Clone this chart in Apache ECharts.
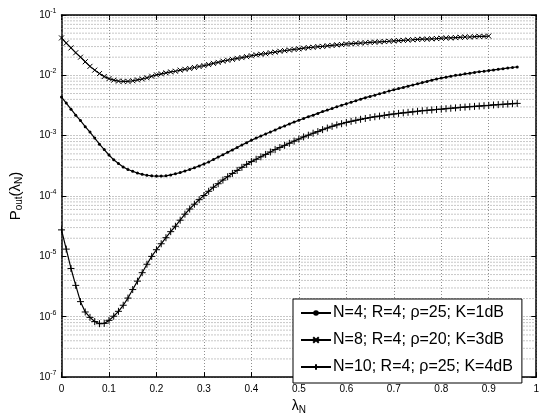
<!DOCTYPE html>
<html>
<head>
<meta charset="utf-8">
<script src="https://cdn.jsdelivr.net/npm/echarts@6/dist/echarts.min.js"></script>
<style>html,body{margin:0;padding:0;background:#fff;}#c{width:542px;height:420px;}</style>
</head>
<body>
<div id="c"></div>
<script>
const lambdaN = [0,0.01,0.02,0.03,0.04,0.05,0.06,0.07,0.08,0.09,0.1,0.11,0.12,0.13,0.14,0.15,0.16,0.17,0.18,0.19,0.2,0.21,0.22,0.23,0.24,0.25,0.26,0.27,0.28,0.29,0.3,0.31,0.32,0.33,0.34,0.35,0.36,0.37,0.38,0.39,0.4,0.41,0.42,0.43,0.44,0.45,0.46,0.47,0.48,0.49,0.5,0.51,0.52,0.53,0.54,0.55,0.56,0.57,0.58,0.59,0.6,0.61,0.62,0.63,0.64,0.65,0.66,0.67,0.68,0.69,0.7,0.71,0.72,0.73,0.74,0.75,0.76,0.77,0.78,0.79,0.8,0.81,0.82,0.83,0.84,0.85,0.86,0.87,0.88,0.89,0.9,0.91,0.92,0.93,0.94,0.95,0.96];

const seriesNames = ['N=4; R=4; \u03c1=25; K=1dB', 'N=8; R=4; \u03c1=20; K=3dB', 'N=10; R=4; \u03c1=25; K=4dB'];

const pN4 = [4.37e-3,3.47e-3,2.75e-3,2.19e-3,1.78e-3,1.41e-3,1.15e-3,9.12e-4,7.24e-4,5.89e-4,
4.79e-4,3.98e-4,3.47e-4,3.02e-4,2.75e-4,2.57e-4,2.40e-4,2.29e-4,2.21e-4,2.16e-4,
2.14e-4,2.14e-4,2.16e-4,2.24e-4,2.34e-4,2.45e-4,2.60e-4,2.75e-4,2.95e-4,3.16e-4,
3.39e-4,3.67e-4,4.03e-4,4.42e-4,4.84e-4,5.31e-4,5.82e-4,6.38e-4,7.00e-4,7.67e-4,
8.41e-4,9.12e-4,9.89e-4,1.07e-3,1.15e-3,1.24e-3,1.35e-3,1.45e-3,1.57e-3,1.68e-3,
1.80e-3,1.93e-3,2.07e-3,2.19e-3,2.34e-3,2.51e-3,2.66e-3,2.82e-3,3.02e-3,3.20e-3,
3.39e-3,3.59e-3,3.80e-3,4.03e-3,4.27e-3,4.47e-3,4.68e-3,4.95e-3,5.19e-3,5.50e-3,
5.75e-3,6.03e-3,6.31e-3,6.61e-3,6.92e-3,7.24e-3,7.59e-3,7.94e-3,8.32e-3,8.71e-3,
9.02e-3,9.33e-3,9.66e-3,1.00e-2,1.02e-2,1.06e-2,1.08e-2,1.12e-2,1.15e-2,1.17e-2,
1.20e-2,1.23e-2,1.26e-2,1.29e-2,1.32e-2,1.35e-2,1.38e-2];

const pN8 = [4.17e-2,3.43e-2,2.85e-2,2.37e-2,2.00e-2,1.68e-2,1.41e-2,1.22e-2,1.07e-2,9.55e-3,
8.81e-3,8.32e-3,8.04e-3,7.94e-3,7.94e-3,8.13e-3,8.41e-3,8.71e-3,9.12e-3,9.66e-3,
1.02e-2,1.06e-2,1.10e-2,1.14e-2,1.17e-2,1.22e-2,1.26e-2,1.30e-2,1.35e-2,1.40e-2,
1.45e-2,1.51e-2,1.58e-2,1.64e-2,1.72e-2,1.78e-2,1.84e-2,1.91e-2,1.97e-2,2.04e-2,
2.11e-2,2.19e-2,2.24e-2,2.29e-2,2.37e-2,2.43e-2,2.51e-2,2.57e-2,2.63e-2,2.69e-2,
2.75e-2,2.82e-2,2.88e-2,2.92e-2,2.99e-2,3.02e-2,3.09e-2,3.13e-2,3.20e-2,3.24e-2,
3.31e-2,3.35e-2,3.39e-2,3.43e-2,3.47e-2,3.51e-2,3.55e-2,3.59e-2,3.63e-2,3.67e-2,
3.72e-2,3.76e-2,3.80e-2,3.85e-2,3.89e-2,3.94e-2,3.98e-2,3.98e-2,4.03e-2,4.07e-2,
4.12e-2,4.17e-2,4.17e-2,4.22e-2,4.27e-2,4.32e-2,4.32e-2,4.37e-2,4.42e-2,4.42e-2,
4.47e-2];

const pN10 = [2.75e-5,1.32e-5,6.31e-6,3.31e-6,1.78e-6,1.20e-6,9.77e-7,8.32e-7,7.67e-7,7.76e-7,
8.71e-7,1.02e-6,1.23e-6,1.55e-6,2.04e-6,2.82e-6,3.89e-6,5.37e-6,7.41e-6,1.00e-5,
1.29e-5,1.62e-5,2.04e-5,2.57e-5,3.16e-5,3.98e-5,5.01e-5,6.10e-5,7.33e-5,8.71e-5,
1.02e-4,1.20e-4,1.40e-4,1.60e-4,1.84e-4,2.09e-4,2.37e-4,2.66e-4,2.99e-4,3.35e-4,
3.72e-4,4.07e-4,4.47e-4,4.90e-4,5.37e-4,5.89e-4,6.38e-4,6.92e-4,7.50e-4,8.13e-4,
8.81e-4,9.55e-4,1.02e-3,1.10e-3,1.17e-3,1.26e-3,1.34e-3,1.43e-3,1.51e-3,1.58e-3,
1.66e-3,1.73e-3,1.80e-3,1.87e-3,1.93e-3,2.00e-3,2.06e-3,2.11e-3,2.17e-3,2.23e-3,
2.29e-3,2.34e-3,2.39e-3,2.44e-3,2.49e-3,2.54e-3,2.59e-3,2.63e-3,2.67e-3,2.72e-3,
2.75e-3,2.80e-3,2.85e-3,2.89e-3,2.94e-3,2.98e-3,3.02e-3,3.06e-3,3.10e-3,3.14e-3,
3.18e-3,3.23e-3,3.27e-3,3.31e-3,3.35e-3,3.39e-3,3.43e-3];

const xTicks = [0,0.1,0.2,0.3,0.4,0.5,0.6,0.7,0.8,0.9,1];
const yDecades = [-7,-6,-5,-4,-3,-2,-1];
const minorMult = [2,3,4,5,6,7,8,9];

const FONT = '"Liberation Sans", Arial, Helvetica, sans-serif';
const gridDot = {color: '#8f8f8f', width: 1, type: [1, 2]};

function pairs(xs, ys) { return ys.map((v, i) => [xs[i], v]); }

// minor log grid lines (2..9 x 10^k), drawn as plain line series across the x range
const minorSeries = [];
yDecades.slice(0, -1).forEach(e => {
  minorMult.forEach(m => {
    const v = m * Math.pow(10, e);
    minorSeries.push({
      type: 'line', silent: true, symbol: 'none', z: 1, animation: false,
      data: [[xTicks[0], v], [xTicks[xTicks.length - 1], v]],
      lineStyle: gridDot, tooltip: {show: false}
    });
  });
});

const chart = echarts.init(document.getElementById('c'), null, {renderer: 'canvas'});
const axisBlack = {lineStyle: {color: '#000', width: 1.5}};

chart.setOption({
  animation: false,
  backgroundColor: '#fff',
  textStyle: {fontFamily: FONT, color: '#000'},
  grid: {left: 58, right: 3, top: 15, bottom: 29, containLabel: false},
  xAxis: [{
    type: 'value', min: 0, max: 1, interval: 0.1, position: 'bottom',
    axisLine: axisBlack,
    axisTick: {inside: true, length: 5, lineStyle: {color: '#000'}},
    axisLabel: {fontSize: 10, color: '#000', margin: 7, fontFamily: FONT,
      formatter: v => String(Math.round(v * 10) / 10)},
    splitLine: {show: true, lineStyle: gridDot},
    name: '{a|\u03bb}{s|N}', nameLocation: 'middle', nameGap: 9,
    nameTextStyle: {rich: {
      a: {fontSize: 14, fontFamily: FONT, color: '#000'},
      s: {fontSize: 10, fontFamily: FONT, color: '#000', padding: [8, 0, 0, 0]}
    }}
  }, {
    type: 'value', min: 0, max: 1, interval: 0.1, position: 'top',
    axisLine: {show: true, onZero: false, lineStyle: {color: '#000', width: 1.5}},
    axisTick: {inside: true, length: 5, lineStyle: {color: '#000'}},
    axisLabel: {show: false}, splitLine: {show: false}
  }],
  yAxis: [{
    type: 'log', logBase: 10, min: 1e-7, max: 1e-1, interval: 1, position: 'left',
    axisLine: {show: true, lineStyle: {color: '#000', width: 1.5}},
    axisTick: {show: true, inside: true, length: 5, lineStyle: {color: '#000'}},
    axisLabel: {
      margin: 5, color: '#000',
      formatter: v => '{b|10}{s|' + Math.round(Math.log10(v)) + '}',
      rich: {
        b: {fontSize: 10, fontFamily: FONT, color: '#000'},
        s: {fontSize: 7, fontFamily: FONT, color: '#000', padding: [0, 0, 8, 0]}
      }
    },
    splitLine: {show: true, lineStyle: gridDot},
    name: '{a|P}{s|out}{a|(\u03bb}{s|N}{a|)}', nameLocation: 'middle', nameGap: 37, nameRotate: 90,
    nameTextStyle: {rich: {
      a: {fontSize: 15, fontFamily: FONT, color: '#000'},
      s: {fontSize: 10, fontFamily: FONT, color: '#000', padding: [8, 0, 0, 0]}
    }}
  }, {
    type: 'log', logBase: 10, min: 1e-7, max: 1e-1, interval: 1, position: 'right',
    axisLine: {show: true, onZero: false, lineStyle: {color: '#000', width: 1.5}},
    axisTick: {show: true, inside: true, length: 5, lineStyle: {color: '#000'}},
    axisLabel: {show: false}, splitLine: {show: false}
  }],
  legend: {
    data: seriesNames,
    orient: 'vertical', left: 293, top: 299,
    backgroundColor: '#fff', borderColor: '#000', borderWidth: 1,
    padding: [5, 9, 7, 7], itemGap: 9, itemWidth: 30, itemHeight: 7,
    textStyle: {fontSize: 16, lineHeight: 18, fontFamily: FONT, color: '#000', padding: [0, 0, 0, -3]},
    selectedMode: false
  },
  series: [{
    name: seriesNames[0], type: 'line', data: pairs(lambdaN, pN4),
    symbol: 'circle', symbolSize: 3, showSymbol: true,
    lineStyle: {color: '#000', width: 1.2},
    itemStyle: {color: '#000', borderColor: '#000', borderWidth: 0},
    z: 5
  }, {
    name: seriesNames[1], type: 'line', data: pairs(lambdaN, pN8),
    symbol: 'path://M0,0L10,10M10,0L0,10', symbolSize: 5, showSymbol: true,
    lineStyle: {color: '#000', width: 1.2},
    itemStyle: {color: '#000', borderColor: '#000', borderWidth: 1},
    z: 5
  }, {
    name: seriesNames[2], type: 'line', data: pairs(lambdaN, pN10),
    symbol: 'path://M5,0L5,10M0,5L10,5', symbolSize: 7, showSymbol: true,
    lineStyle: {color: '#000', width: 1.2},
    itemStyle: {color: '#000', borderColor: '#000', borderWidth: 1},
    z: 5
  }].concat(minorSeries)
});
</script>
</body>
</html>
